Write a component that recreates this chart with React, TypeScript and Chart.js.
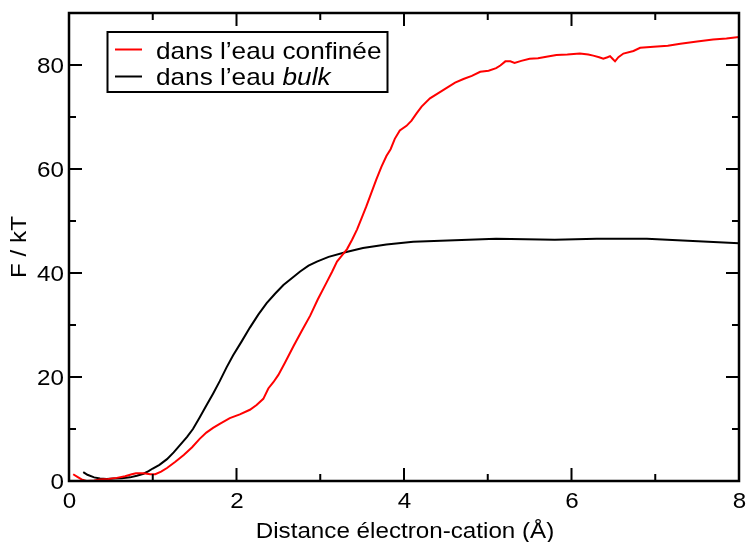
import React, { useEffect, useRef } from "react";
import { Chart, registerables } from "chart.js";

Chart.register(...registerables);

// ---- data ----
const confineX = [0.05, 0.10, 0.15, 0.21, 0.30, 0.37, 0.47, 0.57, 0.67, 0.75, 0.80, 0.89, 0.97, 1.03, 1.10, 1.17, 1.27, 1.37, 1.47, 1.56, 1.64, 1.72, 1.80, 1.92, 2.04, 2.16, 2.24, 2.32, 2.38, 2.44, 2.50, 2.58, 2.68, 2.78, 2.88, 2.97, 3.07, 3.14, 3.20, 3.26, 3.32, 3.38, 3.44, 3.50, 3.55, 3.61, 3.67, 3.73, 3.79, 3.84, 3.89, 3.95, 4.03, 4.09, 4.15, 4.21, 4.31, 4.41, 4.51, 4.61, 4.71, 4.81, 4.91, 5.01, 5.10, 5.15, 5.21, 5.27, 5.32, 5.40, 5.50, 5.60, 5.70, 5.82, 5.95, 6.10, 6.20, 6.26, 6.33, 6.38, 6.43, 6.46, 6.49, 6.52, 6.56, 6.62, 6.74, 6.82, 6.98, 7.15, 7.30, 7.50, 7.69, 7.85, 8.00];
const confineY = [1.3, 0.8, 0.3, 0.0, 0.1, 0.3, 0.4, 0.6, 0.9, 1.3, 1.5, 1.5, 1.3, 1.3, 1.8, 2.5, 3.7, 5.0, 6.5, 8.1, 9.3, 10.2, 11.0, 12.1, 12.8, 13.7, 14.6, 15.8, 17.8, 19.0, 20.4, 22.8, 25.9, 28.9, 31.8, 34.9, 38.0, 40.2, 42.2, 43.4, 44.6, 46.4, 48.4, 50.8, 52.8, 55.4, 58.0, 60.4, 62.5, 63.8, 65.8, 67.4, 68.3, 69.3, 70.7, 72.0, 73.6, 74.6, 75.6, 76.6, 77.3, 77.9, 78.7, 78.9, 79.4, 79.9, 80.7, 80.7, 80.4, 80.8, 81.2, 81.3, 81.6, 81.9, 82.0, 82.2, 82.0, 81.8, 81.5, 81.2, 81.5, 81.7, 81.2, 80.7, 81.5, 82.2, 82.7, 83.3, 83.5, 83.7, 84.1, 84.5, 84.9, 85.1, 85.4];

const bulkX = [0.17, 0.22, 0.30, 0.37, 0.45, 0.53, 0.63, 0.73, 0.81, 0.89, 0.95, 1.00, 1.08, 1.17, 1.25, 1.33, 1.41, 1.48, 1.56, 1.64, 1.72, 1.80, 1.88, 1.96, 2.06, 2.16, 2.26, 2.36, 2.46, 2.56, 2.66, 2.76, 2.86, 2.96, 3.10, 3.30, 3.51, 3.79, 4.11, 5.10, 5.80, 6.30, 6.90, 8.00];
const bulkY = [1.7, 1.2, 0.7, 0.5, 0.4, 0.5, 0.55, 0.7, 1.0, 1.4, 1.9, 2.4, 3.1, 4.2, 5.5, 7.0, 8.5, 10.0, 12.2, 14.5, 16.8, 19.2, 21.8, 24.2, 26.8, 29.5, 32.0, 34.2, 36.0, 37.7, 39.0, 40.3, 41.4, 42.2, 43.1, 44.0, 44.8, 45.5, 46.0, 46.6, 46.4, 46.6, 46.6, 45.7];

const xMajorTicks = [0, 2, 4, 6, 8];
const xMinorTicks = [1, 3, 5, 7];
const yMajorTicks = [0, 20, 40, 60, 80];
const yMinorTicks = [10, 30, 50, 70];

const xTitle = "Distance électron-cation (Å)";
const yTitle = "F / kT";
const legendConfine = "dans l’eau confinée";
const legendBulkPrefix = "dans l’eau ";
const legendBulkItalic = "bulk";

const FONT = "'Liberation Sans', Arial, Helvetica, sans-serif";
const STRETCH = 1.1;

function drawText(
  ctx: CanvasRenderingContext2D,
  text: string,
  x: number,
  y: number,
  font: string,
  align: "left" | "center" | "right",
  baseline: CanvasTextBaseline,
  stretch: number,
  rotate = 0
) {
  ctx.save();
  ctx.font = font;
  ctx.textBaseline = baseline;
  ctx.textAlign = "left";
  const w = ctx.measureText(text).width * stretch;
  ctx.translate(x, y);
  if (rotate) ctx.rotate(rotate);
  let dx = 0;
  if (align === "center") dx = -w / 2;
  else if (align === "right") dx = -w;
  ctx.translate(dx, 0);
  ctx.scale(stretch, 1);
  ctx.fillStyle = "#000";
  ctx.fillText(text, 0, 0);
  ctx.restore();
  return w;
}

const framePlugin = {
  id: "xmgraceFrame",
  afterDatasetsDraw(chart: any) {
    const ctx: CanvasRenderingContext2D = chart.ctx;
    const { left, right, top, bottom } = chart.chartArea;
    const xs = chart.scales.x;
    const ys = chart.scales.y;
    ctx.save();
    ctx.strokeStyle = "#000";
    ctx.lineCap = "butt";
    // ticks
    ctx.lineWidth = 2;
    const major = 13;
    const minor = 7;
    ctx.beginPath();
    const xt = (v: number, len: number) => {
      const px = xs.getPixelForValue(v);
      ctx.moveTo(px, bottom);
      ctx.lineTo(px, bottom - len);
      ctx.moveTo(px, top);
      ctx.lineTo(px, top + len);
    };
    const yt = (v: number, len: number) => {
      const py = ys.getPixelForValue(v);
      ctx.moveTo(left, py);
      ctx.lineTo(left + len, py);
      ctx.moveTo(right, py);
      ctx.lineTo(right - len, py);
    };
    xMajorTicks.forEach((v) => xt(v, major));
    xMinorTicks.forEach((v) => xt(v, minor));
    yMajorTicks.forEach((v) => yt(v, major));
    yMinorTicks.forEach((v) => yt(v, minor));
    ctx.stroke();
    // frame
    ctx.lineWidth = 2.5;
    ctx.strokeRect(left, top, right - left, bottom - top);

    // tick labels
    const tickFont = `22px ${FONT}`;
    xMajorTicks.forEach((v) => {
      drawText(ctx, String(v), xs.getPixelForValue(v) + 0.5, 507.5, tickFont, "center", "alphabetic", STRETCH);
    });
    yMajorTicks.forEach((v) => {
      drawText(ctx, String(v), left - 5, ys.getPixelForValue(v) + 8, tickFont, "right", "alphabetic", STRETCH);
    });

    // axis titles
    const titleFont = `22px ${FONT}`;
    drawText(ctx, xTitle, (left + right) / 2 + 1, 538, titleFont, "center", "alphabetic", STRETCH);
    drawText(ctx, yTitle, 26, (top + bottom) / 2, titleFont, "center", "alphabetic", STRETCH, -Math.PI / 2);

    // legend
    ctx.lineWidth = 2;
    ctx.strokeStyle = "#000";
    ctx.strokeRect(107.5, 32, 280, 60);
    ctx.lineWidth = 2;
    ctx.strokeStyle = "#ff0000";
    ctx.beginPath();
    ctx.moveTo(115, 49.5);
    ctx.lineTo(142, 49.5);
    ctx.stroke();
    ctx.strokeStyle = "#000";
    ctx.beginPath();
    ctx.moveTo(115, 76.5);
    ctx.lineTo(142, 76.5);
    ctx.stroke();
    const legFont = `24px ${FONT}`;
    const legStretch = 1.09;
    drawText(ctx, legendConfine, 156, 58.5, legFont, "left", "alphabetic", legStretch);
    const w = drawText(ctx, legendBulkPrefix, 156, 85, legFont, "left", "alphabetic", legStretch);
    drawText(ctx, legendBulkItalic, 156 + w, 85, `italic 24px ${FONT}`, "left", "alphabetic", legStretch);
    ctx.restore();
  },
};

export default function App() {
  const ref = useRef<HTMLCanvasElement | null>(null);
  useEffect(() => {
    if (!ref.current) return;
    const chart = new Chart(ref.current, {
      type: "line",
      data: {
        datasets: [
          {
            label: legendConfine,
            data: confineX.map((x, i) => ({ x, y: confineY[i] })),
            borderColor: "#ff0000",
            borderWidth: 2,
            pointRadius: 0,
            tension: 0,
            fill: false,
          },
          {
            label: legendBulkPrefix + legendBulkItalic,
            data: bulkX.map((x, i) => ({ x, y: bulkY[i] })),
            borderColor: "#000000",
            borderWidth: 2,
            pointRadius: 0,
            tension: 0,
            fill: false,
          },
        ],
      },
      options: {
        animation: false,
        responsive: false,
        maintainAspectRatio: false,
        events: [],
        layout: { padding: { top: 13, right: 9, left: 0, bottom: 0 } },
        plugins: {
          legend: { display: false },
          tooltip: { enabled: false },
          title: { display: false },
        },
        scales: {
          x: {
            type: "linear",
            min: 0,
            max: 8,
            grid: { display: false },
            border: { display: false },
            ticks: { display: false },
            afterFit: (s: any) => {
              s.height = 61;
            },
          },
          y: {
            type: "linear",
            min: 0,
            max: 90,
            grid: { display: false },
            border: { display: false },
            ticks: { display: false },
            afterFit: (s: any) => {
              s.width = 69;
            },
          },
        },
      },
      plugins: [framePlugin],
    } as any);
    return () => chart.destroy();
  }, []);
  return (
    <div style={{ position: "absolute", left: 0, top: 0, width: 748, height: 542, background: "#fff" }}>
      <canvas ref={ref} width={748} height={542} style={{ display: "block" }} />
    </div>
  );
}
